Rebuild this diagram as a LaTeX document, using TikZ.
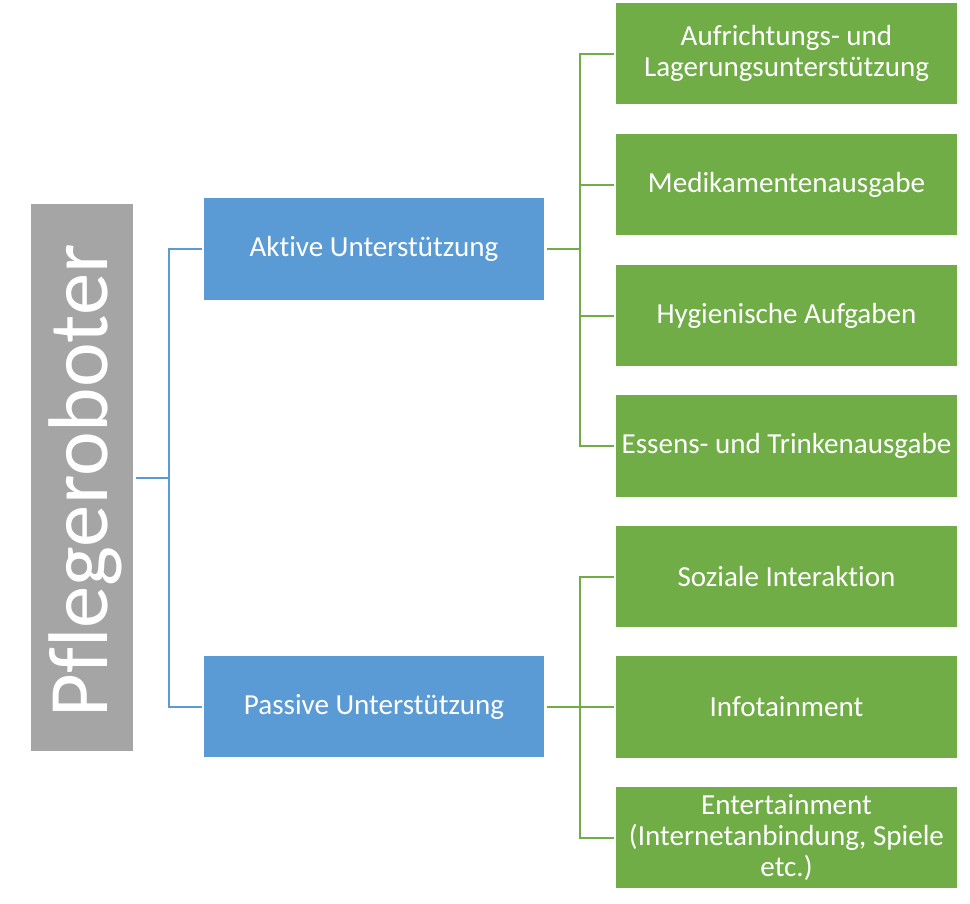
\documentclass[tikz,border=0pt]{standalone}
\usepackage{fontspec}
\setmainfont{Carlito}[Ligatures={NoCommon}]
\definecolor{cgrey}{HTML}{A5A5A5}
\definecolor{cblue}{HTML}{5B9BD5}
\definecolor{cgreen}{HTML}{70AD47}
\begin{document}
\begin{tikzpicture}[x=0.75pt,y=-0.75pt,
  box/.style={minimum width=255pt,minimum height=76pt,inner sep=0pt,text=white,
     font=\fontsize{21.8}{23.25}\selectfont,align=center},
  bluebox/.style={box,fill=cblue},
  greenbox/.style={box,fill=cgreen,minimum width=255.75pt},
  greybox/.style={fill=cgrey,minimum width=76.5pt,minimum height=410pt,inner sep=0pt},
  bline/.style={draw=cblue,line width=1.5pt},
  gline/.style={draw=cgreen,line width=1.5pt}]
\useasboundingbox (0,0) rectangle (970,903);
\node[greybox] (root) at (82,477.5) {};
\node[rotate=90,text=white,font=\fontsize{63.5}{70}\selectfont] (roottext) at (85,481) {Pflegeroboter};
\node[bluebox] (act) at (374,249) {Aktive Unterstützung};
\node[bluebox] (pas) at (374,706.5) {Passive Unterstützung};
\node[greenbox] (g1) at (786.5,53.5) {Aufrichtungs- und\\Lagerungsunterstützung};
\node[greenbox] (g2) at (786.5,184.5) {Medikamentenausgabe};
\node[greenbox] (g3) at (786.5,315.5) {Hygienische Aufgaben};
\node[greenbox] (g4) at (786.5,446) {Essens- und Trinkenausgabe};
\node[greenbox] (g5) at (786.5,576.5) {Soziale Interaktion};
\node[greenbox] (g6) at (786.5,707) {Infotainment};
\node[greenbox] (g7) at (786.5,837.5) {Entertainment\\(Internetanbindung, Spiele\\etc.)};
\coordinate (j1) at (169,477.5);
\coordinate (j2) at (580,249);
\coordinate (j3) at (580,706.5);
\draw[bline,shorten <=2pt] (root.east) -- (j1);
\draw[bline,shorten >=1.5pt] (j1) |- (act.west);
\draw[bline,shorten >=1.5pt] (j1) |- (pas.west);
\draw[gline,shorten <=2pt] (act.east) -- (j2);
\foreach \g in {g1,g2,g3,g4}{\draw[gline,shorten >=1.5pt] (j2) |- (\g.west);}
\draw[gline,shorten <=2pt] (pas.east) -- (j3);
\foreach \g in {g5,g6,g7}{\draw[gline,shorten >=1.5pt] (j3) |- (\g.west);}
\end{tikzpicture}
\end{document}
